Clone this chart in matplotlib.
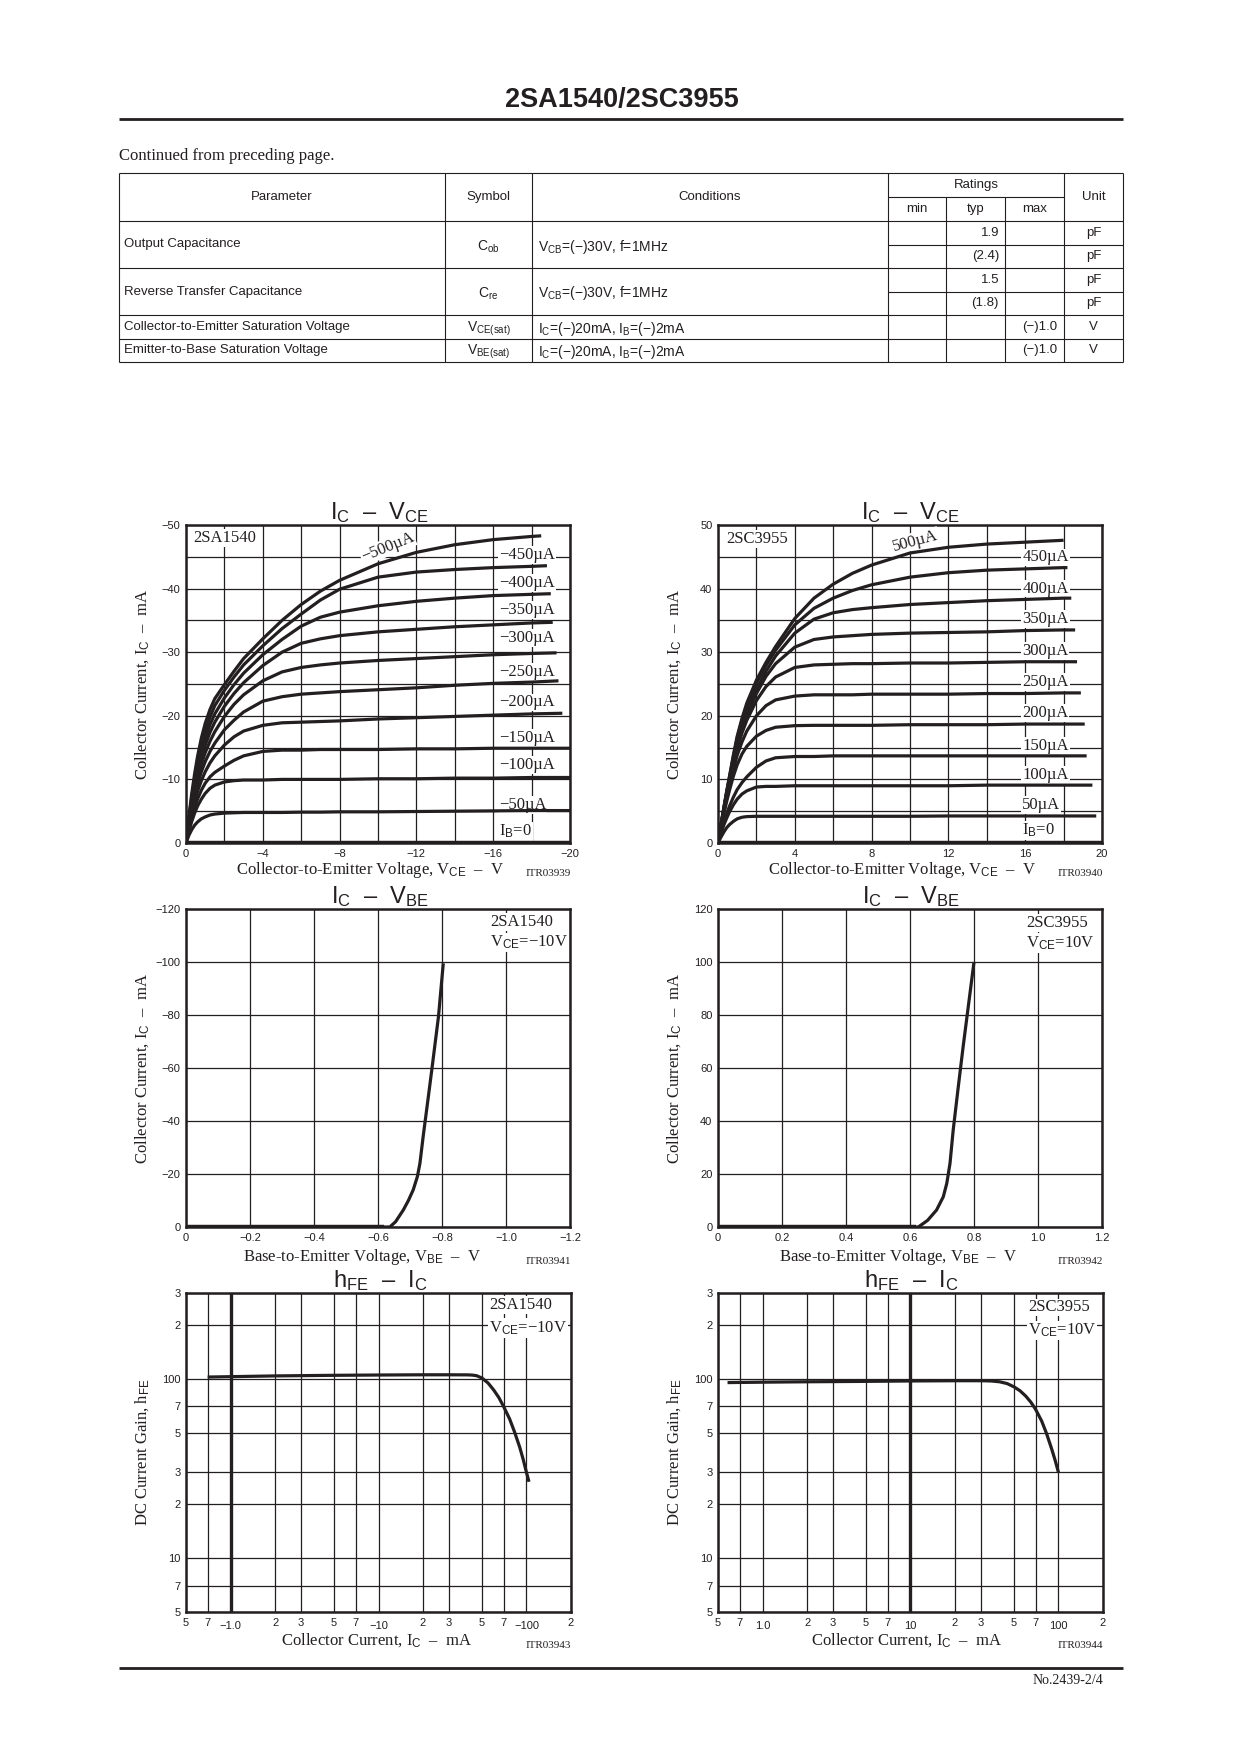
import numpy as np
import matplotlib
matplotlib.use('Agg')
import matplotlib.pyplot as plt
from matplotlib.ticker import NullLocator
from matplotlib.transforms import ScaledTranslation

plt.rcParams['font.family'] = ['Liberation Sans', 'DejaVu Sans']
plt.rcParams['mathtext.fontset'] = 'custom'
plt.rcParams['mathtext.rm'] = 'Liberation Sans'
plt.rcParams['mathtext.it'] = 'Liberation Sans:italic'
plt.rcParams['mathtext.bf'] = 'Liberation Sans:bold'

INK = '#231f20'
SERIF = ['Liberation Serif', 'DejaVu Serif']
W, H = 1240, 1754

# ---------------- table data ----------------
tab_param = ['Output Capacitance', 'Reverse Transfer Capacitance',
             'Collector-to-Emitter Saturation Voltage', 'Emitter-to-Base Saturation Voltage']
tab_symbol = ['C$_\\mathrm{ob}$', 'C$_\\mathrm{re}$', 'V$_\\mathrm{CE(sat)}$', 'V$_\\mathrm{BE(sat)}$']
tab_cond = ['V$_\\mathrm{CB}$=(−)30V, f=1MHz', 'V$_\\mathrm{CB}$=(−)30V, f=1MHz',
            'I$_\\mathrm{C}$=(−)20mA, I$_\\mathrm{B}$=(−)2mA', 'I$_\\mathrm{C}$=(−)20mA, I$_\\mathrm{B}$=(−)2mA']
tab_typ = ['1.9', '(2.4)', '1.5', '(1.8)', '', '']
tab_max = ['', '', '', '', '(−)1.0', '(−)1.0']
tab_unit = ['pF', 'pF', 'pF', 'pF', 'V', 'V']

# ---------------- IC - VCE, 2SA1540 (magnitudes, mA vs V) ----------------
vce_grid = [0, 0.15, 0.3, 0.45, 0.6, 0.8, 1, 1.25, 1.5, 2, 2.5, 3, 4, 5, 6, 7, 8, 10, 12, 14, 16, 18]
sa_ic_500 = [0, 4.2, 7.8, 10.9, 13.6, 16.5, 18.8, 21.0, 22.7, 24.9, 27.0, 29.0, 32.1, 35.0, 37.5, 39.6, 41.3, 43.9, 45.7, 46.9, 47.7, 48.2]
sa_ic_450 = [0, 3.9, 7.2, 10.1, 12.5, 15.3, 17.6, 19.8, 21.6, 24.0, 26.1, 28.0, 31.0, 33.7, 36.0, 38.2, 39.9, 41.8, 42.6, 43.0, 43.3, 43.5]
sa_ic_400 = [0, 3.6, 6.7, 9.4, 11.7, 14.3, 16.5, 18.6, 20.3, 22.8, 24.9, 26.7, 29.6, 32.0, 34.1, 35.5, 36.3, 37.3, 38.0, 38.5, 38.9, 39.1]
sa_ic_350 = [0, 3.4, 6.3, 8.8, 11.0, 13.4, 15.4, 17.4, 19.0, 21.5, 23.5, 25.2, 27.9, 30.0, 31.4, 32.1, 32.6, 33.2, 33.6, 34.0, 34.3, 34.6]
sa_ic_300 = [0, 3.2, 5.9, 8.2, 10.2, 12.4, 14.2, 16.0, 17.5, 19.9, 21.8, 23.3, 25.5, 26.9, 27.6, 28.0, 28.3, 28.7, 29.0, 29.3, 29.6, 29.8]
sa_ic_250 = [0, 2.9, 5.4, 7.5, 9.3, 11.2, 12.8, 14.4, 15.7, 17.8, 19.3, 20.6, 22.3, 23.0, 23.4, 23.6, 23.8, 24.1, 24.4, 24.8, 25.1, 25.3]
sa_ic_200 = [0, 2.6, 4.8, 6.6, 8.1, 9.8, 11.2, 12.6, 13.7, 15.4, 16.7, 17.6, 18.5, 18.9, 19.0, 19.1, 19.2, 19.5, 19.7, 19.9, 20.1, 20.3]
sa_ic_150 = [0, 2.2, 4.1, 5.6, 6.9, 8.3, 9.4, 10.4, 11.1, 12.1, 13.0, 13.7, 14.4, 14.6, 14.6, 14.7, 14.7, 14.7, 14.8, 14.8, 14.9, 14.9]
sa_ic_100 = [0, 1.8, 3.4, 4.7, 5.8, 6.9, 7.8, 8.6, 9.1, 9.6, 9.8, 9.9, 9.9, 10.0, 10.0, 10.0, 10.0, 10.1, 10.1, 10.2, 10.2, 10.3]
sa_ic_50 = [0, 1.2, 2.1, 2.8, 3.3, 3.8, 4.1, 4.4, 4.55, 4.7, 4.75, 4.8, 4.8, 4.8, 4.85, 4.85, 4.9, 4.9, 4.95, 5.0, 5.05, 5.1]
sa_vce_end = [18.5, 18.8, 19.0, 19.1, 19.3, 19.4, 19.6, 20, 20, 20]
sa_ic_end = [48.3, 43.6, 39.2, 34.7, 29.9, 25.5, 20.4, 14.9, 10.3, 5.1]
sa_labels = ['−450µA', '−400µA', '−350µA', '−300µA', '−250µA', '−200µA',
             '−150µA', '−100µA', '−50µA', 'I$_\\mathrm{B}$=0']

# ---------------- IC - VCE, 2SC3955 ----------------
sc_ic_500 = [0, 2.8, 5.5, 8.1, 10.5, 13.8, 16.8, 19.6, 22.0, 25.6, 28.4, 30.9, 35.3, 38.5, 40.7, 42.4, 43.7, 45.6, 46.5, 47.0, 47.3, 47.6]
sc_ic_450 = [0, 2.8, 5.4, 8.0, 10.4, 13.6, 16.5, 19.3, 21.6, 25.1, 27.9, 30.3, 34.3, 36.9, 38.5, 39.7, 40.6, 41.8, 42.5, 42.9, 43.1, 43.3]
sc_ic_400 = [0, 2.7, 5.3, 7.8, 10.1, 13.0, 15.6, 18.3, 20.6, 24.1, 27.0, 29.4, 33.0, 35.2, 36.2, 36.7, 37.0, 37.5, 37.8, 38.1, 38.3, 38.5]
sc_ic_350 = [0, 2.7, 5.3, 7.7, 9.9, 12.8, 15.3, 17.9, 20.1, 23.5, 26.2, 28.2, 30.8, 32.0, 32.4, 32.6, 32.8, 33.0, 33.1, 33.2, 33.4, 33.5]
sc_ic_300 = [0, 2.6, 5.1, 7.5, 9.7, 12.5, 14.9, 17.3, 19.3, 22.4, 24.6, 26.1, 27.6, 28.0, 28.1, 28.2, 28.2, 28.3, 28.3, 28.4, 28.5, 28.5]
sc_ic_250 = [0, 2.5, 4.9, 7.1, 9.1, 11.6, 13.8, 15.9, 17.6, 20.0, 21.6, 22.5, 23.1, 23.3, 23.3, 23.3, 23.4, 23.4, 23.4, 23.5, 23.5, 23.6]
sc_ic_200 = [0, 2.3, 4.5, 6.5, 8.3, 10.5, 12.3, 14.0, 15.2, 16.8, 17.7, 18.2, 18.45, 18.5, 18.5, 18.5, 18.5, 18.6, 18.6, 18.6, 18.7, 18.7]
sc_ic_150 = [0, 1.7, 3.2, 4.6, 5.8, 7.2, 8.4, 9.5, 10.4, 11.9, 12.9, 13.4, 13.6, 13.6, 13.7, 13.7, 13.7, 13.7, 13.7, 13.7, 13.7, 13.7]
sc_ic_100 = [0, 1.5, 2.8, 3.9, 4.9, 6.0, 6.9, 7.7, 8.2, 8.8, 8.9, 8.9, 9.0, 9.0, 9.0, 9.0, 9.0, 9.0, 9.0, 9.1, 9.1, 9.1]
sc_ic_50 = [0, 0.9, 1.7, 2.4, 2.9, 3.4, 3.8, 4.05, 4.15, 4.2, 4.2, 4.2, 4.2, 4.2, 4.2, 4.2, 4.2, 4.2, 4.25, 4.25, 4.25, 4.25]
sc_vce_end = [18.0, 18.2, 18.4, 18.6, 18.7, 18.9, 19.1, 19.2, 19.5, 19.7]
sc_ic_end = [47.6, 43.3, 38.5, 33.5, 28.5, 23.6, 18.7, 13.7, 9.1, 4.25]
sc_labels = ['450µA', '400µA', '350µA', '300µA', '250µA', '200µA',
             '150µA', '100µA', '50µA', 'I$_\\mathrm{B}$=0']

# ---------------- IC - VBE ----------------
sa_vbe = [0, 0.60, 0.637, 0.655, 0.679, 0.695, 0.710, 0.723, 0.731, 0.742, 0.755, 0.768, 0.789, 0.804]
sa_ic_vbe = [0, 0, 0, 2.0, 6.4, 10.0, 14.0, 19.0, 24.0, 35.0, 47.0, 59.2, 79.4, 99.5]
sc_vbe = [0, 0.60, 0.626, 0.655, 0.683, 0.704, 0.715, 0.725, 0.735, 0.750, 0.766, 0.783, 0.800]
sc_ic_vbe = [0, 0, 0, 2.5, 6.4, 11.4, 16.5, 24.0, 36.6, 52.0, 68.0, 84.0, 100.0]
vbe_ticklabels_sa = ['0', '−0.2', '−0.4', '−0.6', '−0.8', '−1.0', '−1.2']
vbe_ticklabels_sc = ['0', '0.2', '0.4', '0.6', '0.8', '1.0', '1.2']

# ---------------- hFE - IC ----------------
sa_hfe_ic = [0.7, 1, 2, 5, 10, 20, 30, 40, 43, 46, 50, 55, 60, 65, 70, 77, 83, 90, 95, 100, 104]
sa_hfe = [102, 102.5, 103.5, 104.3, 104.7, 105, 105, 104.9, 104.6, 103.8, 100.8, 94.5, 86.5, 78.5, 70, 59.5, 50.5, 41.5, 35.5, 30, 26.6]
sc_hfe_ic = [0.58, 1, 2, 5, 10, 20, 30, 35, 40, 45, 50, 55, 60, 65, 70, 77, 83, 90, 95, 100]
sc_hfe = [95, 95.5, 96, 96.5, 97, 97.3, 97.3, 97, 96, 93.8, 90, 85.5, 80, 74, 67.5, 58, 49.5, 40.5, 35, 30]
hfe_xticks = [0.5, 0.7, 1, 2, 3, 5, 7, 10, 20, 30, 50, 70, 100, 200]
hfe_xlabels_sa = ['5', '7', '−1.0', '2', '3', '5', '7', '−10', '2', '3', '5', '7', '−100', '2']
hfe_xlabels_sc = ['5', '7', '1.0', '2', '3', '5', '7', '10', '2', '3', '5', '7', '100', '2']
hfe_yticks = [5, 7, 10, 20, 30, 50, 70, 100, 200, 300]
hfe_ylabels = ['5', '7', '10', '2', '3', '5', '7', '100', '2', '3']

fig = plt.figure(figsize=(12.4, 17.54), dpi=100)
page = fig.add_axes([0, 0, 1, 1])
page.set_xlim(0, W)
page.set_ylim(H, 0)
page.axis('off')


def ptext(x, y, s, **kw):
    kw.setdefault('color', INK)
    page.text(x, y, s, **kw)


def pline(xs, ys, lw=0.8):
    page.plot(xs, ys, color=INK, lw=lw, solid_capstyle='butt')


# header
ptext(622, 100, '2SA1540/2SC3955', ha='center', va='center', fontsize=19.5, fontweight='bold')
pline([119, 1123], [119, 119], lw=2.0)
ptext(119, 156, 'Continued from preceding page.', family=SERIF, fontsize=12, va='center')

# table grid
t_top, t_mid, t_head = 173, 197, 221
rows = [221, 244.5, 268, 291.5, 315, 338.5, 362]
for y in [t_top, t_head, 268, 315, 338.5, 362]:
    pline([119, 1123], [y, y])
pline([888, 1064], [t_mid, t_mid])
for y in [244.5, 291.5]:
    pline([888, 1123], [y, y])
for x in [119, 445, 532, 888, 1064, 1123]:
    pline([x, x], [t_top, 362])
for x in [946, 1005]:
    pline([x, x], [t_mid, 362])

fs = 9.5
ptext(282, 197, 'Parameter', ha='center', va='center', fontsize=fs)
ptext(488.5, 197, 'Symbol', ha='center', va='center', fontsize=fs)
ptext(710, 197, 'Conditions', ha='center', va='center', fontsize=fs)
ptext(976, 185, 'Ratings', ha='center', va='center', fontsize=fs)
ptext(917, 209, 'min', ha='center', va='center', fontsize=fs)
ptext(975.5, 209, 'typ', ha='center', va='center', fontsize=fs)
ptext(1034.5, 209, 'max', ha='center', va='center', fontsize=fs)
ptext(1093.5, 197, 'Unit', ha='center', va='center', fontsize=fs)

row_mid = [244.5, 291.5, 326.75, 350.25]
for i in range(4):
    ptext(124, row_mid[i], tab_param[i], va='center', fontsize=fs)
    ptext(488.5, row_mid[i] + 2, tab_symbol[i], ha='center', va='center', fontsize=fs + 0.5)
    ptext(538, row_mid[i] + 2, tab_cond[i], va='center', fontsize=fs + 0.5)
for i in range(6):
    yc = (rows[i] + rows[i + 1]) / 2
    if tab_typ[i]:
        ptext(999, yc, tab_typ[i], ha='right', va='center', fontsize=fs)
    if tab_max[i]:
        ptext(1057, yc, tab_max[i], ha='right', va='center', fontsize=fs)
    ptext(1093.5, yc, tab_unit[i], ha='center', va='center', fontsize=fs)


def add_chart(x0, y0, x1, y1):
    ax = fig.add_axes([x0 / W, 1 - y1 / H, (x1 - x0) / W, (y1 - y0) / H])
    ax.set_facecolor('white')
    for s in ax.spines.values():
        s.set_linewidth(1.8)
        s.set_color(INK)
    ax.tick_params(which='both', length=0, labelsize=8, colors=INK, pad=4)
    ax.set_axisbelow(True)
    return ax


def lab(ax, x, y, s, trans=None, size=12, rot=0):
    ax.text(x, y, s, family=SERIF, fontsize=size, color=INK, rotation=rot,
            ha='left' if rot == 0 else 'center', va='center', zorder=3,
            transform=trans if trans is not None else ax.transData,
            bbox=dict(facecolor='white', edgecolor='none', pad=0.6))


CURVE = dict(color=INK, lw=2.3, zorder=4, solid_capstyle='butt', solid_joinstyle='round')

# ---------- IC - VCE ----------
sa_curves = [sa_ic_500, sa_ic_450, sa_ic_400, sa_ic_350, sa_ic_300,
             sa_ic_250, sa_ic_200, sa_ic_150, sa_ic_100, sa_ic_50]
sc_curves = [sc_ic_500, sc_ic_450, sc_ic_400, sc_ic_350, sc_ic_300,
             sc_ic_250, sc_ic_200, sc_ic_150, sc_ic_100, sc_ic_50]
sa_lab_y = [45.3, 40.9, 36.6, 32.2, 26.9, 22.1, 16.5, 12.3, 6.0, 1.8]
sc_lab_y = [44.9, 40.0, 35.2, 30.2, 25.3, 20.4, 15.3, 10.7, 6.0, 2.0]

for side, x0 in (('sa', 186), ('sc', 718)):
    ax = add_chart(x0, 525, x0 + 384, 843)
    sg = -1 if side == 'sa' else 1
    ax.set_xlim(0, 20 * sg)
    ax.set_ylim(0, 50 * sg)
    ax.set_xticks(np.arange(0, 21, 4) * sg)
    ax.set_xticks(np.arange(0, 21, 2) * sg, minor=True)
    ax.set_yticks(np.arange(0, 51, 10) * sg)
    ax.set_yticks(np.arange(0, 51, 5) * sg, minor=True)
    ax.grid(True, which='both', color=INK, lw=0.9)
    curves = sa_curves if side == 'sa' else sc_curves
    v_end = sa_vce_end if side == 'sa' else sc_vce_end
    i_end = sa_ic_end if side == 'sa' else sc_ic_end
    for k, ic in enumerate(curves):
        ax.plot(sg * np.array(vce_grid + [v_end[k]]), sg * np.array(ic + [i_end[k]]), **CURVE)
    ax.plot([0, 20 * sg], [0, 0], color=INK, lw=3.2, zorder=4, solid_capstyle='butt')
    labels = sa_labels if side == 'sa' else sc_labels
    lys = sa_lab_y if side == 'sa' else sc_lab_y
    lx = 16.3 if side == 'sa' else 15.85
    for s, ly in zip(labels, lys):
        lab(ax, sg * lx, sg * ly, s)
    if side == 'sa':
        lab(ax, -10.5, -46.5, '−500µA', rot=22)
        lab(ax, 0.02, 0.96, '2SA1540', trans=ax.transAxes)
    else:
        lab(ax, 10.3, 47.5, '500µA', rot=15)
        lab(ax, 0.022, 0.955, '2SC3955', trans=ax.transAxes)

# ---------- IC - VBE ----------
for side, x0 in (('sa', 186), ('sc', 718)):
    ax = add_chart(x0, 909, x0 + 384, 1227)
    sg = -1 if side == 'sa' else 1
    ax.set_xlim(0, 1.2 * sg)
    ax.set_ylim(0, 120 * sg)
    ax.set_xticks(np.linspace(0, 1.2, 7) * sg)
    ax.set_xticklabels(vbe_ticklabels_sa if side == 'sa' else vbe_ticklabels_sc)
    ax.set_yticks(np.arange(0, 121, 20) * sg)
    ax.grid(True, which='major', color=INK, lw=0.9)
    vbe = sa_vbe if side == 'sa' else sc_vbe
    icb = sa_ic_vbe if side == 'sa' else sc_ic_vbe
    ax.plot(sg * np.array(vbe), sg * np.array(icb), **CURVE)
    ax.plot([0, 0.62 * sg], [0, 0], color=INK, lw=3.2, zorder=4, solid_capstyle='butt')
    if side == 'sa':
        lab(ax, 0.792, 0.96, '2SA1540', trans=ax.transAxes)
        lab(ax, 0.792, 0.895, 'V$_\\mathrm{CE}$=−10V', trans=ax.transAxes)
    else:
        lab(ax, 0.802, 0.955, '2SC3955', trans=ax.transAxes)
        lab(ax, 0.802, 0.893, 'V$_\\mathrm{CE}$=10V', trans=ax.transAxes)

# ---------- hFE - IC ----------
for side, x0 in (('sa', 186), ('sc', 718)):
    ax = add_chart(x0, 1293, x0 + 385, 1612)
    ax.set_xscale('log')
    ax.set_yscale('log')
    ax.set_xlim(0.5, 200)
    ax.set_ylim(5, 300)
    ax.set_xticks(hfe_xticks)
    ax.set_xticklabels(hfe_xlabels_sa if side == 'sa' else hfe_xlabels_sc)
    ax.set_yticks(hfe_yticks)
    ax.set_yticklabels(hfe_ylabels)
    ax.xaxis.set_minor_locator(NullLocator())
    ax.yaxis.set_minor_locator(NullLocator())
    ax.grid(True, which='major', color=INK, lw=0.9)
    shift = ScaledTranslation(0, -0.03, fig.dpi_scale_trans)
    for t, v in zip(ax.get_xticklabels(), hfe_xticks):
        if v in (1, 10, 100):
            t.set_transform(t.get_transform() + shift)
    ax.axvline(1 if side == 'sa' else 10, color=INK, lw=2.4, zorder=1)
    if side == 'sa':
        ax.plot(sa_hfe_ic, sa_hfe, **CURVE)
        lab(ax, 0.787, 0.962, '2SA1540', trans=ax.transAxes)
        lab(ax, 0.787, 0.89, 'V$_\\mathrm{CE}$=−10V', trans=ax.transAxes)
    else:
        ax.plot(sc_hfe_ic, sc_hfe, **CURVE)
        lab(ax, 0.805, 0.955, '2SC3955', trans=ax.transAxes)
        lab(ax, 0.805, 0.883, 'V$_\\mathrm{CE}$=10V', trans=ax.transAxes)

# chart titles and axis labels
for cx, dx in ((380, 186), (911, 718)):
    ptext(cx, 513, 'I$_\\mathrm{C}$  –  V$_\\mathrm{CE}$', ha='center', va='center', fontsize=17)
    ptext(cx, 897, 'I$_\\mathrm{C}$  –  V$_\\mathrm{BE}$', ha='center', va='center', fontsize=17)
    ptext(cx, 1281, 'h$_\\mathrm{FE}$  –  I$_\\mathrm{C}$', ha='center', va='center', fontsize=17)
    yl = dx - 43
    ptext(yl, 684, 'Collector Current, I$_\\mathrm{C}$  –  mA', family=SERIF, fontsize=12,
          rotation=90, ha='center', va='center')
    ptext(yl, 1068, 'Collector Current, I$_\\mathrm{C}$  –  mA', family=SERIF, fontsize=12,
          rotation=90, ha='center', va='center')
    ptext(yl, 1452, 'DC Current Gain, h$_\\mathrm{FE}$', family=SERIF, fontsize=12,
          rotation=90, ha='center', va='center')

itr = ['ITR03939', 'ITR03940', 'ITR03941', 'ITR03942', 'ITR03943', 'ITR03944']
xlab_txt = ['Collector-to-Emitter Voltage, V$_\\mathrm{CE}$  –  V',
            'Base-to-Emitter Voltage, V$_\\mathrm{BE}$  –  V',
            'Collector Current, I$_\\mathrm{C}$  –  mA']
xlab_cx = [(370, 902), (362, 898), (377, 907)]
xlab_y = [870, 1257, 1641]
for r in range(3):
    for c in range(2):
        ptext(xlab_cx[r][c], xlab_y[r], xlab_txt[r], family=SERIF, fontsize=12,
              ha='center', va='center')
        ptext(571 + 532 * c, xlab_y[r] + 4, itr[2 * r + c], family=SERIF, fontsize=8,
              ha='right', va='center')

# footer
pline([119, 1123], [1668, 1668], lw=2.0)
ptext(1103, 1681, 'No.2439-2/4', family=SERIF, fontsize=10, ha='right', va='center')

fig.savefig('out.png', dpi=100, facecolor='white')
